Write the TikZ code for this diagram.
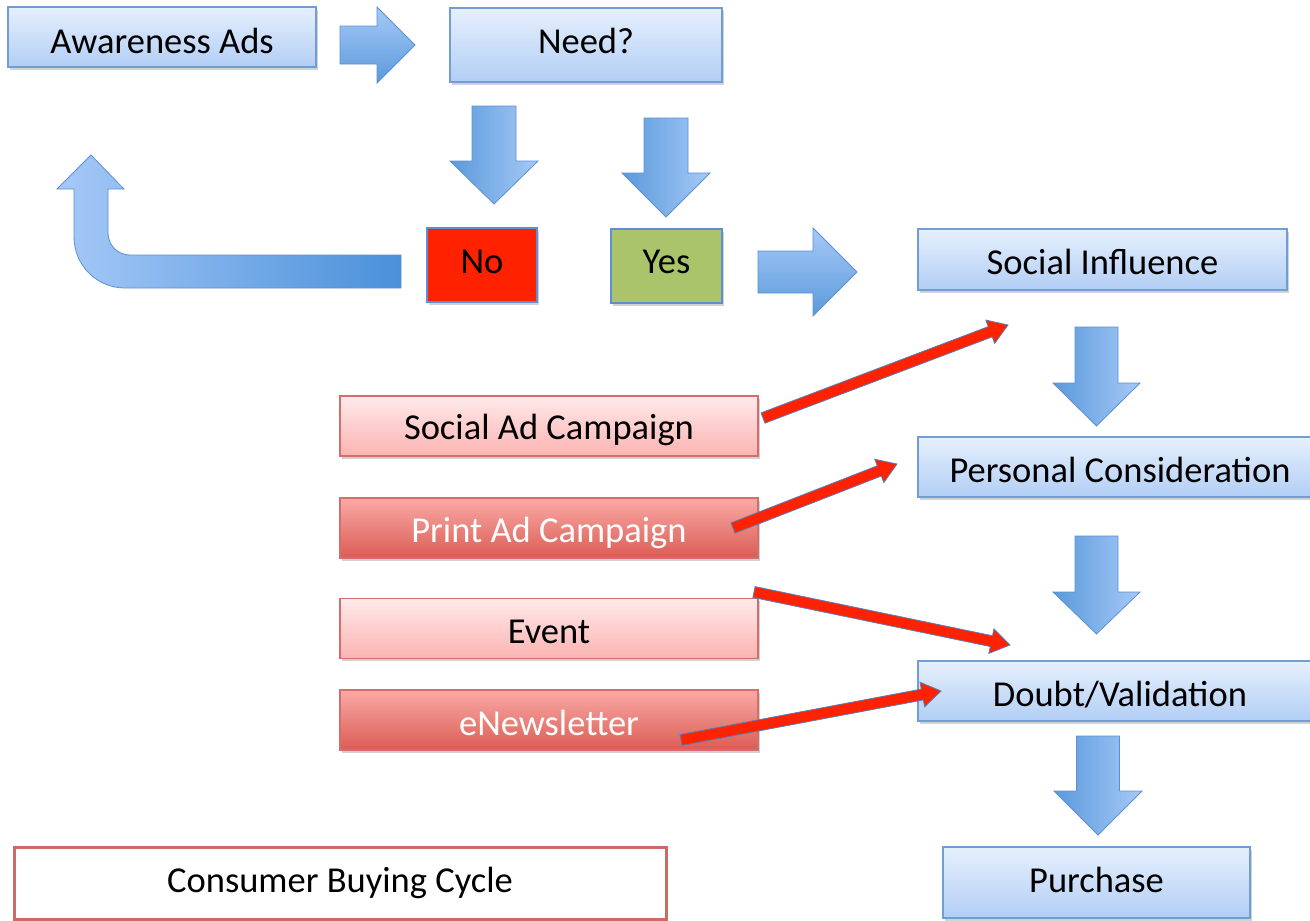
\documentclass[tikz,border=0pt]{standalone}
\usepackage{fontspec}
\setmainfont{Carlito}
\usetikzlibrary{calc,shadows}

\definecolor{boxline}{HTML}{6E9DD8}
\definecolor{boxtop}{HTML}{E6F0FD}
\definecolor{boxbot}{HTML}{B2CEF5}
\definecolor{arrdark}{HTML}{5A9ADB}
\definecolor{arrlight}{HTML}{A6C9F7}
\definecolor{arrdeep}{HTML}{4A90D9}
\definecolor{arrline}{HTML}{5C90D2}
\definecolor{pinkline}{HTML}{D56E6A}
\definecolor{pinktop}{HTML}{FFEAEA}
\definecolor{pinkbot}{HTML}{FBB3B1}
\definecolor{rosetop}{HTML}{FAAAA6}
\definecolor{rosebot}{HTML}{DB5C54}
\definecolor{nored}{HTML}{FF2200}
\definecolor{yesgreen}{HTML}{A9C46A}
\definecolor{cycleline}{HTML}{CC6A65}
\definecolor{campred}{HTML}{FF2200}
\definecolor{campline}{HTML}{4F81BD}

\tikzset{
  labelfont/.style={font=\fontsize{36.5}{40}\selectfont},
  softshadow/.style={drop shadow={shadow xshift=1.5pt,shadow yshift=-2.5pt,opacity=0.25,fill=black!70}},
  bluebox/.style={draw=boxline,line width=1.2pt,top color=boxtop,bottom color=boxbot,
    softshadow,inner sep=0pt,labelfont},
  pinkbox/.style={draw=pinkline,line width=1.2pt,top color=pinktop,bottom color=pinkbot,
    softshadow,inner sep=0pt,minimum width=418,minimum height=60,labelfont},
  rosebox/.style={draw=pinkline,line width=1.2pt,top color=rosetop,bottom color=rosebot,
    softshadow,inner sep=0pt,minimum width=418,minimum height=60,text=white,labelfont},
  answerbox/.style={draw=arrline,line width=1.2pt,softshadow,inner sep=0pt,
    minimum width=110,minimum height=74,labelfont},
  titlebox/.style={draw=cycleline,line width=3pt,fill=white,inner sep=0pt,
    minimum width=652,minimum height=72,labelfont},
  downblock/.style={draw=arrline,line width=0.8pt,left color=arrdark,right color=arrlight},
  rightblock/.style={draw=arrline,line width=0.8pt,top color=arrlight,bottom color=arrdark},
  campaignarrow/.style={fill=campred,draw=campline,line width=0.8pt,line join=miter},
}

% text nudged up or down inside its box, keeping its natural size
\newcommand{\Nudge}[2]{\raisebox{#1pt}[\height][\depth]{#2}}

% downward block arrow: centre x, shaft half width, top, head base, head half width, tip
\newcommand{\DownBlock}[6]{%
  \draw[downblock] ({#1-#2},#3) -- ({#1+#2},#3) -- ({#1+#2},#4) -- ({#1+#5},#4)
    -- (#1,#6) -- ({#1-#5},#4) -- ({#1-#2},#4) -- cycle;}
% rightward block arrow: centre y, shaft half width, left, head base, head half width, tip
\newcommand{\RightBlock}[6]{%
  \draw[rightblock] (#3,{#1-#2}) -- (#4,{#1-#2}) -- (#4,{#1-#5}) -- (#6,#1)
    -- (#4,{#1+#5}) -- (#4,{#1+#2}) -- (#3,{#1+#2}) -- cycle;}
% slanted campaign arrow between two named coordinates
\newcommand{\CampaignArrow}[2]{%
  \draw[campaignarrow] ($(#1)!5.5pt!90:(#2)$) -- ($(#2)!19pt!(#1)!5.5pt!-90:(#1)$)
    -- ($(#2)!19pt!(#1)!12.5pt!-90:(#1)$) -- (#2)
    -- ($(#2)!19pt!(#1)!12.5pt!90:(#1)$) -- ($(#2)!19pt!(#1)!5.5pt!90:(#1)$)
    -- ($(#1)!5.5pt!-90:(#2)$) -- cycle;}

\begin{document}
\begin{tikzpicture}[x=1pt,y=-1pt]
\useasboundingbox (0,0) rectangle (1310,921);

% main flow boxes
\node[bluebox,minimum width=308,minimum height=60] (aware) at (162,37) {\Nudge{-4}{Awareness Ads}};
\node[bluebox,minimum width=272,minimum height=74] (need) at (586,45) {\Nudge{4}{Need?}};
\node[answerbox,fill=nored] (no) at (482,265) {\Nudge{3}{No}};
\node[answerbox,fill=yesgreen,minimum width=111] (yes) at (666.5,266) {\Nudge{4}{Yes}};
\node[bluebox,minimum width=369,minimum height=61] (social) at (1102.5,259.5) {\Nudge{-2}{Social Influence}};
\node[bluebox,minimum width=404,minimum height=60] (personal) at (1120,467) {\Nudge{-3}{Personal Consideration}};
\node[bluebox,minimum width=404,minimum height=60] (doubt) at (1120,691) {\Nudge{-4}{Doubt/Validation}};
\node[bluebox,minimum width=307,minimum height=71] (purchase) at (1096.5,882.5) {\Nudge{3}{Purchase}};

% campaign boxes
\node[pinkbox] (socialad) at (549,426) {\Nudge{-4}{Social Ad Campaign}};
\node[rosebox] (printad) at (549,528) {\Nudge{-5}{Print Ad Campaign}};
\node[pinkbox] (event) at (549,628.5) {\Nudge{-3}{Event}};
\node[rosebox] (enews) at (549,720) {\Nudge{-3}{eNewsletter}};

% title
\node[titlebox] (title) at (340,883) {Consumer Buying Cycle};

% block arrows along the flow
\RightBlock{45}{19}{340}{377}{38}{415}
\DownBlock{494}{22}{106}{161}{44}{204}
\DownBlock{666}{22}{118}{173}{44}{217}
\RightBlock{272}{21}{758}{813}{44}{857}
\DownBlock{1096.5}{21.5}{327}{383}{43.5}{426}
\DownBlock{1096.5}{21.5}{536}{592}{43.5}{634}
\DownBlock{1098}{21.5}{736}{791}{44}{835}

% return arrow from No back up to the awareness stage
\draw[draw=arrline,line width=0.8pt,left color=arrlight,right color=arrdeep]
  (401,255) -- (130,255) .. controls (117.85,255) and (108,245.15) .. (108,233)
  -- (108,189) -- (124,189) -- (91,155) -- (57,189) -- (74,189) -- (74,237)
  .. controls (74,265.17) and (96.83,288) .. (125,288) -- (401,288) -- cycle;

% campaign arrows
\coordinate (c1a) at (763,418);  \coordinate (c1b) at (1008,325);
\coordinate (c2a) at (733,528);  \coordinate (c2b) at (897,464);
\coordinate (c3a) at (754,592);  \coordinate (c3b) at (1010,645);
\coordinate (c4a) at (681,740);  \coordinate (c4b) at (941,691);
\CampaignArrow{c1a}{c1b}
\CampaignArrow{c2a}{c2b}
\CampaignArrow{c3a}{c3b}
\CampaignArrow{c4a}{c4b}
\end{tikzpicture}
\end{document}
